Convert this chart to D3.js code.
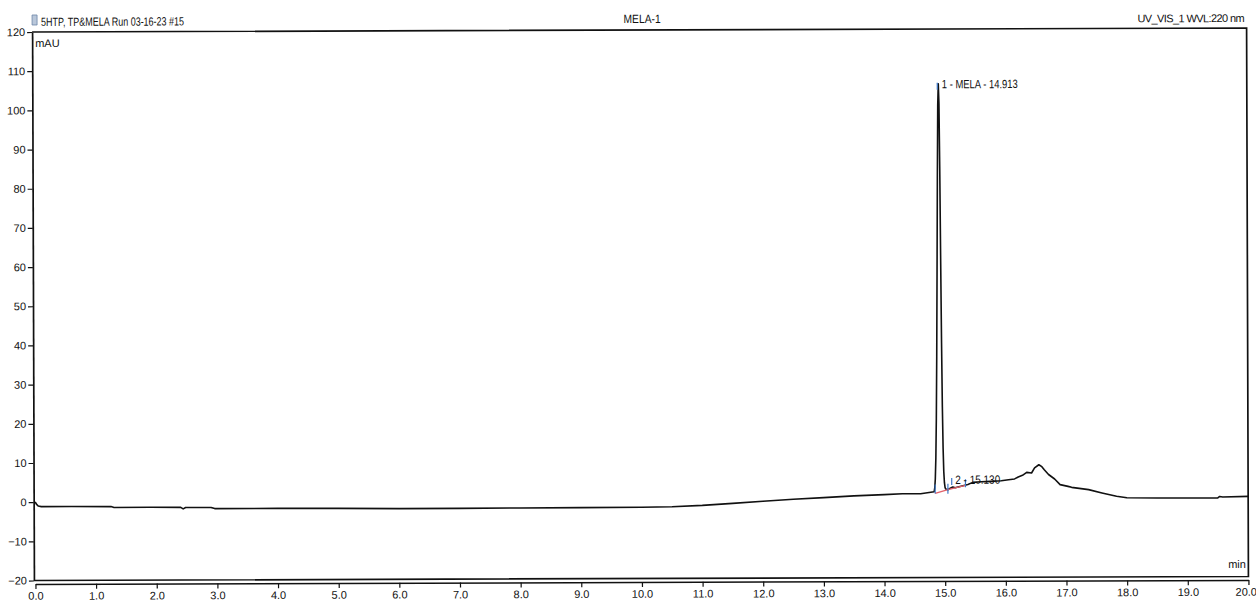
<!DOCTYPE html>
<html><head><meta charset="utf-8">
<script src="https://cdn.jsdelivr.net/npm/d3@7"></script>
<style>
html,body{margin:0;padding:0;background:#fff;}
svg{display:block;}
text{font-family:"Liberation Sans Narrow","Arial Narrow","Liberation Sans",Arial,sans-serif;fill:#111;}
</style></head><body>
<svg id="chart" width="1256" height="603"></svg>
<script>
// UV chromatogram, retention time (min) vs absorbance (mAU)
const traceTime = [
  0.00, 0.02, 0.05, 0.10, 0.60, 1.25, 1.30, 1.90, 2.40, 2.44, 2.48, 2.90, 2.96,
  4.00, 5.00, 6.00, 7.00, 8.00, 9.00, 10.00, 10.50, 11.00, 11.50, 12.00, 12.50,
  13.00, 13.50, 14.00, 14.30, 14.60, 14.823, 14.833, 14.843, 14.853, 14.863,
  14.873, 14.883, 14.893, 14.903, 14.913, 14.923, 14.933, 14.943, 14.953, 14.963,
  14.973, 14.983, 14.993, 15.003, 15.013, 15.05, 15.09, 15.13, 15.17, 15.25,
  15.38, 15.46, 15.60, 15.75, 15.93, 16.05, 16.15, 16.21, 16.28, 16.35, 16.43,
  16.48, 16.55, 16.60, 16.64, 16.71, 16.81, 16.90, 17.03, 17.09, 17.37, 17.59,
  17.83, 18.00, 18.50, 19.00, 19.50, 19.53, 19.58, 20.00
];
const traceMAU = [
  0.1, -0.5, -1.0, -1.15, -1.15, -1.2, -1.45, -1.4, -1.45, -1.85, -1.5, -1.5, -1.8,
  -1.8, -1.85, -1.95, -1.95, -1.9, -1.85, -1.8, -1.7, -1.4, -0.9, -0.4, 0.1,
  0.5, 0.9, 1.2, 1.4, 1.4, 1.9, 2.8, 5.2, 10.5, 20.5,
  36.5, 58.5, 82, 100.5, 106, 101, 84, 61, 40, 23.5,
  13, 7, 4.2, 3.0, 2.6, 2.4, 2.8, 3.1, 2.9, 3.2,
  3.7, 4.25, 4.4, 4.5, 4.65, 4.9, 5.1, 5.6, 6.0, 6.75, 6.6,
  7.9, 8.7, 8.2, 7.4, 6.2, 5.05, 3.6, 3.15, 2.9, 2.3, 1.45,
  0.6, 0.2, 0.1, 0.1, 0.1, 0.45, 0.3, 0.45
];

// Integrated peaks
const peakLabels = ["1 - MELA - 14.913", "2 - 15.130"];
const peakTimes = [14.913, 15.130];
const peakMAU = [106, 3.1];
// Peak delimiters and the drawn integration baseline
const delimiterTimes = [14.84, 15.05, 15.34];
const delimiterMAU = [1.45, 2.4, 3.5];

// Axis ticks
const xTickValues = [0,1,2,3,4,5,6,7,8,9,10,11,12,13,14,15,16,17,18,19,20];
const yTickValues = [-20,-10,0,10,20,30,40,50,60,70,80,90,100,110,120];

const headerLeft = "5HTP, TP&MELA Run 03-16-23 #15";
const headerCenter = "MELA-1";
const headerRight = "UV_VIS_1 WVL:220 nm";

const x = d3.scaleLinear().domain([0, 20]).range([34.5, 1247.5]);
const y = d3.scaleLinear().domain([-20, 120]).range([578.5, 30]);

const svg = d3.select("#chart");
const g = svg.append("g").attr("transform", "rotate(-0.19 640 300)");
const ink = "#111";
const fontStack = '"Liberation Sans Narrow","Arial Narrow","Liberation Sans",Arial,sans-serif';

// header
g.append("rect").attr("x", 33).attr("y", 13).attr("width", 5).attr("height", 10)
  .attr("fill", "#b9c7da").attr("stroke", "#6d86a8").attr("stroke-width", 0.8);
g.append("text").attr("x", 42).attr("y", 24).attr("font-size", 12)
  .attr("textLength", 143).attr("lengthAdjust", "spacingAndGlyphs").text(headerLeft);
g.append("text").attr("x", 643).attr("y", 23).attr("font-size", 12).attr("text-anchor", "middle")
  .attr("textLength", 37).attr("lengthAdjust", "spacingAndGlyphs").text(headerCenter);
g.append("text").attr("x", 1245).attr("y", 24).attr("font-size", 11).attr("text-anchor", "end")
  .attr("letter-spacing", "-0.6px").text(headerRight);

// plot frame
g.append("path")
  .attr("d", `M${x(0) - 1.5},${y(120)}H${x(20)}V${y(-20)}H${x(0) - 1.5}`)
  .attr("fill", "none").attr("stroke", ink).attr("stroke-width", 1.7);

// y axis
const yAxisG = g.append("g").attr("transform", `translate(${x(0) - 1.5},0)`);
yAxisG.call(d3.axisLeft(y).tickValues(d3.range(-20, 121, 2)).tickSize(3).tickSizeOuter(0).tickFormat(""));
yAxisG.call(d3.axisLeft(y).tickValues(yTickValues).tickSize(5).tickSizeOuter(0).tickPadding(2).tickFormat(d3.format("d")));
yAxisG.selectAll("path.domain").attr("stroke", ink).attr("stroke-width", 1.7);
yAxisG.selectAll(".tick line").attr("stroke", ink).attr("stroke-width", 1.2);
yAxisG.selectAll("text").attr("font-size", 11).attr("fill", "#111").attr("font-family", fontStack);

// x axis
const xAxisG = g.append("g").attr("transform", `translate(0,${y(-20) + 3.5})`);
xAxisG.call(d3.axisBottom(x).tickValues(d3.range(0, 20.001, 0.25)).tickSize(3).tickSizeOuter(0).tickFormat(""));
xAxisG.call(d3.axisBottom(x).tickValues(xTickValues).tickSize(5).tickSizeOuter(0).tickPadding(3).tickFormat(d3.format(".1f")));
xAxisG.selectAll("path.domain").attr("stroke", ink).attr("stroke-width", 1.5);
xAxisG.selectAll(".tick line").attr("stroke", ink).attr("stroke-width", 1.2);
xAxisG.selectAll("text").attr("font-size", 11).attr("fill", "#111").attr("font-family", fontStack);
// keep the last label inside the page edge
xAxisG.selectAll(".tick text").filter(d => d === 20)
  .attr("text-anchor", "end").attr("x", 8);

// units
g.append("text").attr("x", 36).attr("y", 45).attr("font-size", 11).text("mAU");
g.append("text").attr("x", 1245).attr("y", 570).attr("font-size", 11).attr("text-anchor", "end").text("min");

// trace
const pts = traceTime.map((t, i) => [t, traceMAU[i]]);
g.append("path").datum(pts)
  .attr("d", d3.line().x(d => x(d[0])).y(d => y(d[1])))
  .attr("fill", "none").attr("stroke", ink).attr("stroke-width", 1.6).attr("stroke-linejoin", "round");

// integration baseline
const basePts = delimiterTimes.map((t, i) => [t, delimiterMAU[i]]);
g.append("path").datum(basePts)
  .attr("d", d3.line().x(d => x(d[0])).y(d => y(d[1])))
  .attr("fill", "none").attr("stroke", "#e0606a").attr("stroke-width", 1.3);

// peak delimiters
const blue = "#3d78c8";
const delimOffsets = [[-9, 0], [-6, 4], [-6, 2]];
g.selectAll("line.delim").data(delimiterTimes).join("line").attr("class", "delim")
  .attr("x1", d => x(d)).attr("x2", d => x(d))
  .attr("y1", (d, i) => y(delimiterMAU[i]) + delimOffsets[i][0])
  .attr("y2", (d, i) => y(delimiterMAU[i]) + delimOffsets[i][1])
  .attr("stroke", blue).attr("stroke-width", 1.2);

// peak apex markers and labels
const apexOffsets = [[-1, 6], [-9, -2]];
g.selectAll("line.apex").data(peakTimes).join("line").attr("class", "apex")
  .attr("x1", d => x(d) - 1).attr("x2", d => x(d) - 1)
  .attr("y1", (d, i) => y(peakMAU[i]) + apexOffsets[i][0])
  .attr("y2", (d, i) => y(peakMAU[i]) + apexOffsets[i][1])
  .attr("stroke", blue).attr("stroke-width", 1.2);

const labelLen = [76, 45];
const labelDx = [3.5, 2.5];
const labelDy = [4.5, -3];
g.selectAll("text.peak").data(peakTimes).join("text").attr("class", "peak")
  .attr("x", (d, i) => x(d) + labelDx[i])
  .attr("y", (d, i) => y(peakMAU[i]) + labelDy[i])
  .attr("font-size", 12)
  .attr("textLength", (d, i) => labelLen[i]).attr("lengthAdjust", "spacingAndGlyphs")
  .text((d, i) => peakLabels[i]);
</script>
</body></html>
